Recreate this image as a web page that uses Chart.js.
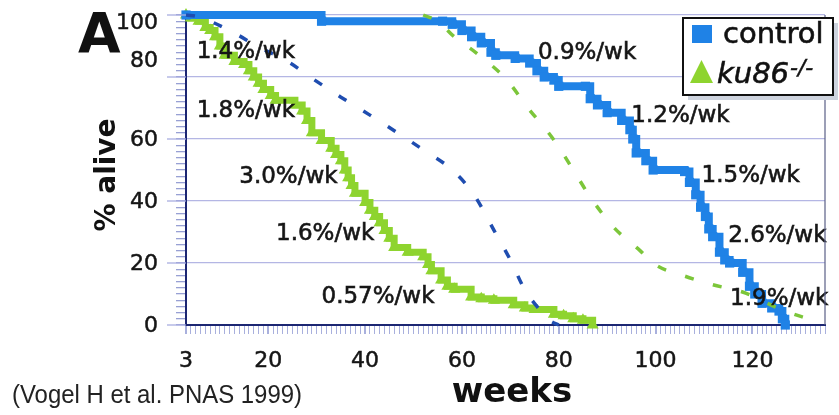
<!DOCTYPE html>
<html>
<head>
<meta charset="utf-8">
<script src="https://cdn.jsdelivr.net/npm/chart.js@4.4.1/dist/chart.umd.min.js"></script>
<style>
  html, body { margin: 0; padding: 0; background: #fff; }
  #wrap { width: 839px; height: 415px; }
</style>
</head>
<body>
<div id="wrap"><canvas id="surv" width="839" height="415"></canvas></div>
<script>
// survival data (weeks, % alive)
const controlWeeks = [3, 31, 56, 58, 60, 62, 64, 66, 67, 71, 74, 75.5, 77, 79, 80, 85.5, 86.5, 88, 90, 93, 94.7, 95.3, 96, 98, 99.5, 106, 107, 108.3, 109.3, 110.3, 111, 111.8, 113.2, 114.3, 115.3, 118, 119.4, 120.5, 122, 124, 125.5, 126.2, 126.8];
const controlAlive = [100, 98, 98, 97, 95, 93, 91, 88, 87, 86, 84.5, 82, 80, 79, 77, 77, 73, 71, 68.5, 66, 63, 60, 55.5, 53, 50, 49.5, 46, 42, 38, 35, 31, 28.5, 23.5, 21, 20, 17, 12.5, 10, 7, 5.5, 4.5, 2, 0];

const ku86Weeks = [3, 4, 5.6, 7, 8, 9, 10, 11, 13, 15, 16, 17, 18, 19, 20.5, 21.5, 25.5, 27, 28, 29, 31, 33, 34, 35, 35.8, 36.5, 37.2, 37.9, 40, 41, 42, 43, 44, 45, 46, 48.8, 52, 53, 53.7, 55.7, 57, 58.4, 61.9, 64, 66.6, 70.7, 73, 75, 79, 81, 83, 85, 87];
const ku86Alive = [100, 99, 98, 96, 95, 93, 90, 87, 85, 84, 82, 80, 78, 76, 74, 72.5, 71, 69, 66, 62, 59.5, 57, 55, 53, 50, 47.5, 45, 42.5, 39.5, 37, 35, 33, 30.5, 28, 25, 23.5, 22, 19.5, 17.5, 14.5, 12.5, 11.5, 9, 8.5, 8, 6.5, 5.5, 5, 3.5, 3, 2, 1.5, 0];

// dashed curves
const blueDashWeeks = [3, 5.6, 12.6, 18, 24, 29.6, 35, 41, 46.7, 52, 58, 62.5, 66.6, 70, 73, 75.5, 78, 80];
const blueDashAlive = [100, 99.4, 94.5, 89.7, 85, 79, 73.5, 67.7, 62, 56.5, 50, 42, 30.6, 21, 11.3, 6, 1.6, 0];

const greenDashWeeks = [52, 55, 58.4, 63, 69.3, 73.5, 79, 83, 86.5, 91.3, 96.8, 100, 105.6, 111.8, 118.6, 124.8, 130.3, 133];
const greenDashAlive = [100, 98, 93, 87.7, 79, 70.3, 59.7, 50, 41.3, 31.6, 24, 19.4, 16, 13, 10.3, 5.8, 2.6, 1.5];

const xTickLabels = [3, 20, 40, 60, 80, 100, 120];
const yTickLabels = [0, 20, 40, 60, 80, 100];

// slope notes, placed in data units (left edge, baseline)
const rateNotes = [
  { text: '1.4%/wk', week: 5.2, alive: 86.1 },
  { text: '1.8%/wk', week: 5.2, alive: 67.1 },
  { text: '3.0%/wk', week: 14.0, alive: 45.8 },
  { text: '1.6%/wk', week: 21.6, alive: 27.4 },
  { text: '0.57%/wk', week: 31.0, alive: 7.1 },
  { text: '0.9%/wk', week: 75.7, alive: 85.8 },
  { text: '1.2%/wk', week: 95.0, alive: 65.5 },
  { text: '1.5%/wk', week: 109.5, alive: 46.1 },
  { text: '2.6%/wk', week: 115.0, alive: 26.8 },
  { text: '1.9%/wk', week: 115.4, alive: 6.5 }
];

const BLUE = '#1f82e6';
const GREEN = '#8ed42f';
const NAVY = '#1c2672';

const pts = (xs, ys) => xs.map((x, i) => ({ x: x, y: ys[i] }));

// fill + thin stroke, the scanned text is a bit heavier than plain weight
function heavyText(c, txt, x, y, w) {
  c.fillText(txt, x, y);
  c.lineWidth = w;
  c.strokeStyle = c.fillStyle;
  c.strokeText(txt, x, y);
}

const decor = {
  id: 'decor',
  beforeDraw(chart) {
    const c = chart.ctx;
    c.save();
    c.fillStyle = '#fff';
    c.fillRect(0, 0, chart.width, chart.height);
    c.restore();
  },
  afterDatasetsDraw(chart) {
    const c = chart.ctx, xs = chart.scales.x, ys = chart.scales.y;
    c.save();
    c.fillStyle = '#161616';
    c.font = '23px "DejaVu Sans"';
    c.textAlign = 'left';
    c.textBaseline = 'alphabetic';
    rateNotes.forEach(n => {
      heavyText(c, n.text, xs.getPixelForValue(n.week), ys.getPixelForValue(n.alive), 0.6);
    });
    c.restore();
  },
  afterDraw(chart) {
    const c = chart.ctx, ys = chart.scales.y, area = chart.chartArea;
    c.save();

    // longer marks at the major y ticks
    c.strokeStyle = '#a9aee0';
    c.lineWidth = 1.3;
    yTickLabels.forEach(v => {
      const py = ys.getPixelForValue(v);
      c.beginPath(); c.moveTo(167, py); c.lineTo(area.left, py); c.stroke();
    });

    // right frame
    c.strokeStyle = '#5a5f86';
    c.lineWidth = 1.2;
    c.beginPath(); c.moveTo(area.right, area.top); c.lineTo(area.right, area.bottom); c.stroke();

    // y tick labels (top two sit off their lines in the original)
    const nudge = { 100: 8.5, 80: -15.5 };
    c.fillStyle = '#151515';
    c.font = '22px "DejaVu Sans"';
    c.textAlign = 'right';
    c.textBaseline = 'middle';
    yTickLabels.forEach(v => {
      heavyText(c, String(v), 158, ys.getPixelForValue(v) + (nudge[v] !== undefined ? nudge[v] : 1), 0.5);
    });

    // panel letter
    c.textAlign = 'left';
    c.textBaseline = 'alphabetic';
    c.font = 'bold 55px "DejaVu Sans"';
    c.fillStyle = '#111';
    c.fillText('A', 78, 52);

    // axis titles
    c.font = 'bold 34px "DejaVu Sans"';
    c.textAlign = 'center';
    c.fillText('weeks', 512, 402);
    c.save();
    c.translate(115, 175);
    c.rotate(-Math.PI / 2);
    c.font = 'bold 28px "DejaVu Sans"';
    c.fillText('% alive', 0, 0);
    c.restore();

    // legend box
    c.fillStyle = '#cdd3de';
    c.fillRect(688, 23, 150, 77);
    c.fillStyle = '#fff';
    c.fillRect(683, 18, 150, 77);
    c.strokeStyle = '#111';
    c.lineWidth = 2;
    c.strokeRect(683, 18, 150, 77);
    c.fillStyle = BLUE;
    c.fillRect(692, 25, 20, 18);
    c.fillStyle = GREEN;
    c.beginPath(); c.moveTo(690, 83); c.lineTo(713, 83); c.lineTo(701.5, 60); c.closePath(); c.fill();
    c.fillStyle = '#111';
    c.textAlign = 'left';
    c.font = '29px "DejaVu Sans"';
    heavyText(c, 'control', 723, 43, 0.6);
    c.font = 'italic 29px "DejaVu Sans"';
    heavyText(c, 'ku86', 717, 83, 0.6);
    c.font = 'italic 22px "DejaVu Sans"';
    heavyText(c, '-/-', 790, 75, 0.5);

    // citation
    c.fillStyle = '#222';
    c.font = '25px "Liberation Sans Narrow", "Liberation Sans"';
    c.fillText('(Vogel H et al. PNAS 1999)', 12, 403, 290);

    c.restore();
  }
};

const ctx = document.getElementById('surv');

new Chart(ctx, {
  type: 'line',
  data: {
    datasets: [
      {
        label: 'control',
        data: pts(controlWeeks, controlAlive),
        borderColor: BLUE,
        backgroundColor: BLUE,
        borderWidth: 8,
        stepped: true,
        pointStyle: 'rect',
        pointRadius: 6.5,
        pointBorderWidth: 0,
        clip: false,
        order: 2
      },
      {
        label: 'ku86-/-',
        data: pts(ku86Weeks, ku86Alive),
        borderColor: GREEN,
        backgroundColor: GREEN,
        borderWidth: 7,
        stepped: true,
        pointStyle: 'triangle',
        pointRadius: 7,
        pointBorderWidth: 0,
        clip: false,
        order: 2
      },
      {
        label: 'blue dashed',
        data: pts(blueDashWeeks, blueDashAlive),
        borderColor: '#1f4db0',
        borderWidth: 3.5,
        borderDash: [9, 20],
        pointRadius: 0,
        cubicInterpolationMode: 'monotone',
        clip: false,
        order: 1
      },
      {
        label: 'green dashed',
        data: pts(greenDashWeeks, greenDashAlive),
        borderColor: '#7cc63a',
        borderWidth: 3.5,
        borderDash: [9, 20],
        pointRadius: 0,
        cubicInterpolationMode: 'monotone',
        clip: false,
        order: 1
      }
    ]
  },
  options: {
    responsive: false,
    animation: false,
    devicePixelRatio: 1,
    layout: { padding: { left: 0, top: 15, right: 6, bottom: 0 } },
    plugins: {
      legend: { display: false },
      tooltip: { enabled: false }
    },
    scales: {
      x: {
        type: 'linear',
        min: 3,
        max: 135,
        afterBuildTicks: s => {
          const t = [];
          for (let v = 3; v <= 135; v++) t.push({ value: v });
          s.ticks = t;
        },
        afterFit: s => { s.height = 90; },
        ticks: {
          autoSkip: false,
          maxRotation: 0,
          padding: 14,
          color: '#151515',
          font: { family: 'DejaVu Sans', size: 22 },
          textStrokeColor: '#151515',
          textStrokeWidth: 0.5,
          callback: v => xTickLabels.includes(v) ? String(v) : ''
        },
        grid: {
          drawOnChartArea: false,
          tickLength: 9,
          color: '#a9b0dd',
          lineWidth: c => (c.tick && xTickLabels.includes(c.tick.value)) ? 2 : 1
        },
        border: { display: true, color: NAVY, width: 2 }
      },
      y: {
        min: 0,
        max: 100,
        afterBuildTicks: s => {
          const t = [];
          for (let v = 0; v <= 100; v += 2) t.push({ value: v });
          s.ticks = t;
        },
        afterFit: s => { s.width = 186; },
        ticks: { display: false },
        grid: {
          tickLength: 10,
          color: c => (c.tick && c.tick.value % 20 === 0 && c.tick.value > 0) ? '#b4b6e4' : 'rgba(0,0,0,0)',
          tickColor: '#98a0d4',
          lineWidth: 1.3
        },
        border: { display: true, color: NAVY, width: 2 }
      }
    }
  },
  plugins: [decor]
});
</script>
</body>
</html>
